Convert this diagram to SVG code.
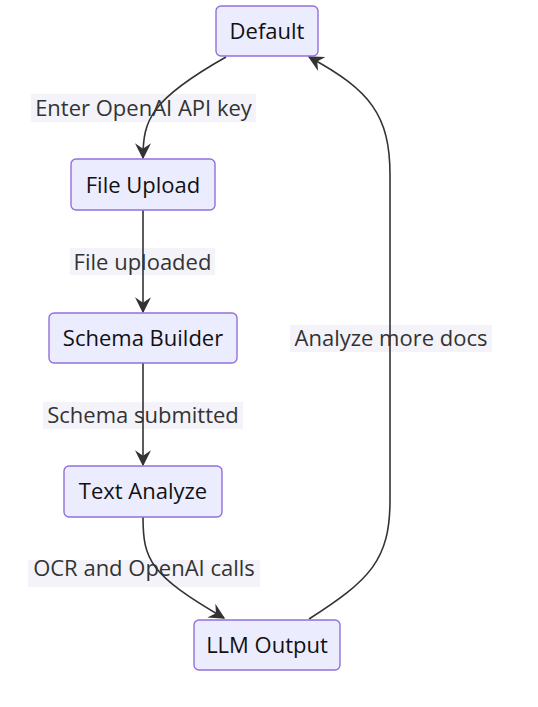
<svg xmlns="http://www.w3.org/2000/svg" width="538" height="707" viewBox="0 0 538 707">
<defs>
<style>
.node rect{fill:#ECECFF;stroke:#9370DB;stroke-width:1.4}
.node text{font-family:"Open Sans","Noto Sans",sans-serif;font-size:22px;fill:#111;text-anchor:middle;dominant-baseline:central}
.lbl rect{fill:#F3F3F9}
.lbl text{font-family:"Open Sans","Noto Sans",sans-serif;font-size:22px;fill:#333;text-anchor:middle;dominant-baseline:central}
.edge{fill:none;stroke:#333;stroke-width:1.6;marker-end:url(#arr)}
</style>
<marker id="arr" viewBox="0 0 12 12" refX="11" refY="6" markerWidth="16" markerHeight="16" markerUnits="userSpaceOnUse" orient="auto">
<path d="M0,0 L12,6 L0,12 L4,6 z" fill="#333"/>
</marker>
</defs>
<rect width="538" height="707" fill="#fff"/>
<g id="labels">
<g class="lbl"><rect x="31" y="94" width="225" height="28"/><text x="143.5" y="107">Enter OpenAI API key</text></g>
<g class="lbl"><rect x="70" y="248" width="145" height="27"/><text x="142.5" y="261">File uploaded</text></g>
<g class="lbl"><rect x="43" y="402" width="200" height="27"/><text x="143" y="414">Schema submitted</text></g>
<g class="lbl"><rect x="28" y="560" width="232" height="27"/><text x="144" y="567">OCR and OpenAI calls</text></g>
<g class="lbl"><rect x="290" y="325" width="202" height="27"/><text x="391" y="337">Analyze more docs</text></g>
</g>
<g id="edges">
<path class="edge" d="M226,57 C150,100 143,120 143,158"/>
<path class="edge" d="M143,210 L143,312"/>
<path class="edge" d="M143,363 L143,465"/>
<path class="edge" d="M143,517 C143,560 150,575 224,618"/>
<path class="edge" d="M309,619 C370,580 390,560 390,500 L390,175 C390,115 370,90 309,57"/>
</g>
<g id="default" class="node"><rect x="216" y="6" width="102" height="50" rx="5"/><text x="267" y="30">Default</text></g>
<g id="file-upload" class="node"><rect x="71" y="159" width="144" height="51" rx="5"/><text x="143" y="184">File Upload</text></g>
<g id="schema-builder" class="node"><rect x="49" y="313" width="188" height="50" rx="5"/><text x="143" y="337">Schema Builder</text></g>
<g id="text-analyze" class="node"><rect x="64" y="466" width="158" height="51" rx="5"/><text x="143" y="490">Text Analyze</text></g>
<g id="llm-output" class="node"><rect x="194" y="620" width="146" height="50" rx="5"/><text x="267" y="644">LLM Output</text></g>
</svg>
